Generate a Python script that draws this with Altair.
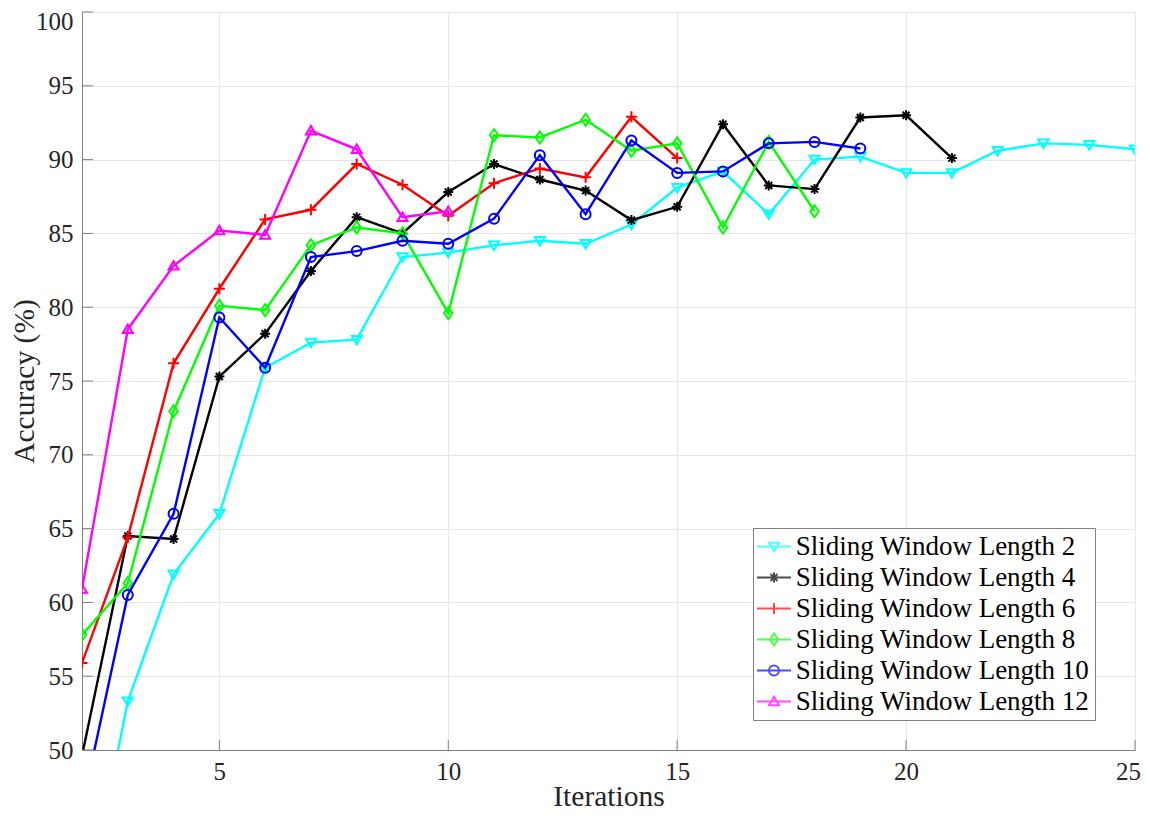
import altair as alt
import pandas as pd

# ---------------- data ----------------
x_start = 2
acc_len2 = [37.6, 53.3, 61.9, 66.0, 75.9, 77.6, 77.8, 83.4, 83.7, 84.2, 84.5, 84.3,
            85.6, 88.1, 89.2, 86.3, 90.0, 90.2, 89.1, 89.1, 90.6, 91.1, 91.0, 90.7]
acc_len4 = [49.6, 64.5, 64.3, 75.3, 78.2, 82.45, 86.1, 85.0, 87.8, 89.7, 88.65, 87.9,
            85.9, 86.8, 92.4, 88.25, 88.0, 92.85, 93.0, 90.1]
acc_len6 = [55.9, 64.4, 76.2, 81.25, 85.95, 86.6, 89.7, 88.3, 86.2, 88.4, 89.4, 88.8,
            92.9, 90.1]
acc_len8 = [57.8, 61.3, 72.95, 80.1, 79.8, 84.2, 85.4, 85.0, 79.6, 91.65, 91.5, 92.7,
            90.6, 91.1, 85.4, 91.2, 86.5]
acc_len10 = [46.1, 60.5, 66.0, 79.3, 75.9, 83.4, 83.8, 84.5, 84.3, 86.0, 90.3, 86.3,
             91.3, 89.1, 89.2, 91.1, 91.2, 90.75]
acc_len12 = [60.9, 78.5, 82.8, 85.2, 84.9, 91.95, 90.7, 86.1, 86.5]

series_names = [
    "Sliding Window Length 2",
    "Sliding Window Length 4",
    "Sliding Window Length 6",
    "Sliding Window Length 8",
    "Sliding Window Length 10",
    "Sliding Window Length 12",
]
series_values = [acc_len2, acc_len4, acc_len6, acc_len8, acc_len10, acc_len12]
series_colors = ["#00FFFF", "#000000", "#FF0000", "#00FF00", "#0000FF", "#FF00FF"]

x_ticks = [5, 10, 15, 20, 25]
y_ticks = [50, 55, 60, 65, 70, 75, 80, 85, 90, 95, 100]

# ---------------- marker shapes (style) ----------------
m_tri_down = "M-1,-0.75L1,-0.75L0,0.95Z"
m_star = "M-1,0L1,0M0,-1L0,1M-0.7,-0.7L0.7,0.7M-0.7,0.7L0.7,-0.7"
m_plus = "M-1.1,0L1.1,0M0,-1.1L0,1.1"
m_diamond = "M0,-1.2L0.85,0L0,1.2L-0.85,0Z"
m_circle = "M1,0A1,1 0 1,1 -1,0A1,1 0 1,1 1,0Z"
m_tri_up = "M-1,0.75L1,0.75L0,-0.95Z"
marker_paths = [m_tri_down, m_star, m_plus, m_diamond, m_circle, m_tri_up]
leg_line = "M-3.4,0L3.4,0"
legend_paths = [leg_line + p for p in marker_paths]

rows = []
for name, vals in zip(series_names, series_values):
    for i, v in enumerate(vals):
        rows.append({"series": name, "iter": x_start + i, "acc": v})
df = pd.DataFrame(rows)

W, H = 1053, 738
FONT = "Liberation Serif"
AXIS_GRAY = "#808080"
GRID = "#e6e6e6"

xscale = alt.Scale(domain=[2, 25], nice=False, zero=False)
yscale = alt.Scale(domain=[50, 100], nice=False, zero=False)

X = alt.X("iter:Q", scale=xscale,
          axis=alt.Axis(values=x_ticks, title="Iterations", titleY=55,
                        labelOffset={"condition": {"test": "datum.value == 25", "value": -7},
                                     "value": 0}))
Y = alt.Y("acc:Q", scale=yscale,
          axis=alt.Axis(values=y_ticks, title="Accuracy (%)", titleAngle=270,
                        titleX=-49, titleY=H / 2,
                        labelOffset={"condition": {"test": "datum.value == 100", "value": 9},
                                     "value": 0}))

layers = []
for name, color, path in zip(series_names, series_colors, marker_paths):
    sub = alt.Chart(df).transform_filter(alt.datum.series == name)
    line = sub.mark_line(color=color, strokeWidth=2.4, clip=True).encode(x=X, y=Y)
    pts = sub.mark_point(shape=path, size=100, filled=False, color=color,
                         strokeWidth=2, opacity=1, clip=True).encode(x=X, y=Y)
    layers += [line, pts]

# inward tick marks
ytick_df = pd.DataFrame({"acc": y_ticks})
xtick_df = pd.DataFrame({"iter": x_ticks})
ytick_layer = alt.Chart(ytick_df).mark_rule(color=AXIS_GRAY, strokeWidth=1).encode(
    y=Y, x=alt.value(0), x2=alt.value(11),
)
xtick_layer = alt.Chart(xtick_df).mark_rule(color=AXIS_GRAY, strokeWidth=1).encode(
    x=X, y=alt.value(H), y2=alt.value(H - 10),
)

legend_cfg = alt.Legend(
    orient="none", legendX=671, legendY=516, title=None,
    labelFont=FONT, labelFontSize=27, labelColor="#000000", labelLimit=0,
    symbolSize=100, symbolStrokeWidth=2, symbolOffset=2.5, labelOffset=8.2,
    padding=5, rowPadding=3, strokeColor=AXIS_GRAY, fillColor="white",
)
legend_layer = alt.Chart(df).transform_filter("false").mark_point(
    filled=False, strokeWidth=2
).encode(
    x=X, y=Y,
    color=alt.Color("series:N", sort=series_names,
                    scale=alt.Scale(domain=series_names, range=series_colors),
                    legend=legend_cfg),
    shape=alt.Shape("series:N", sort=series_names,
                    scale=alt.Scale(domain=series_names, range=legend_paths),
                    legend=legend_cfg),
)

chart = alt.layer(*layers, ytick_layer, xtick_layer, legend_layer).properties(
    width=W, height=H,
    autosize=alt.AutoSizeParams(type="none"),
    padding={"left": 74, "top": 4, "right": 7, "bottom": 61},
    background="white",
).configure_view(stroke=GRID).configure_axis(
    grid=True, gridColor=GRID, gridWidth=1,
    domainColor=AXIS_GRAY, domainWidth=1, ticks=False,
    labelFont=FONT, labelFontSize=25, labelColor="#262626",
    labelFlush=False, labelOverlap=False,
    titleFont=FONT, titleFontSize=29.5, titleFontWeight="normal", titleColor="#262626",
    titleBaseline="alphabetic",
).configure_axisX(labelPadding=9).configure_axisY(labelPadding=9, titleAlign="center")

chart.save("out.html", embed_options={"renderer": "svg", "actions": False})
